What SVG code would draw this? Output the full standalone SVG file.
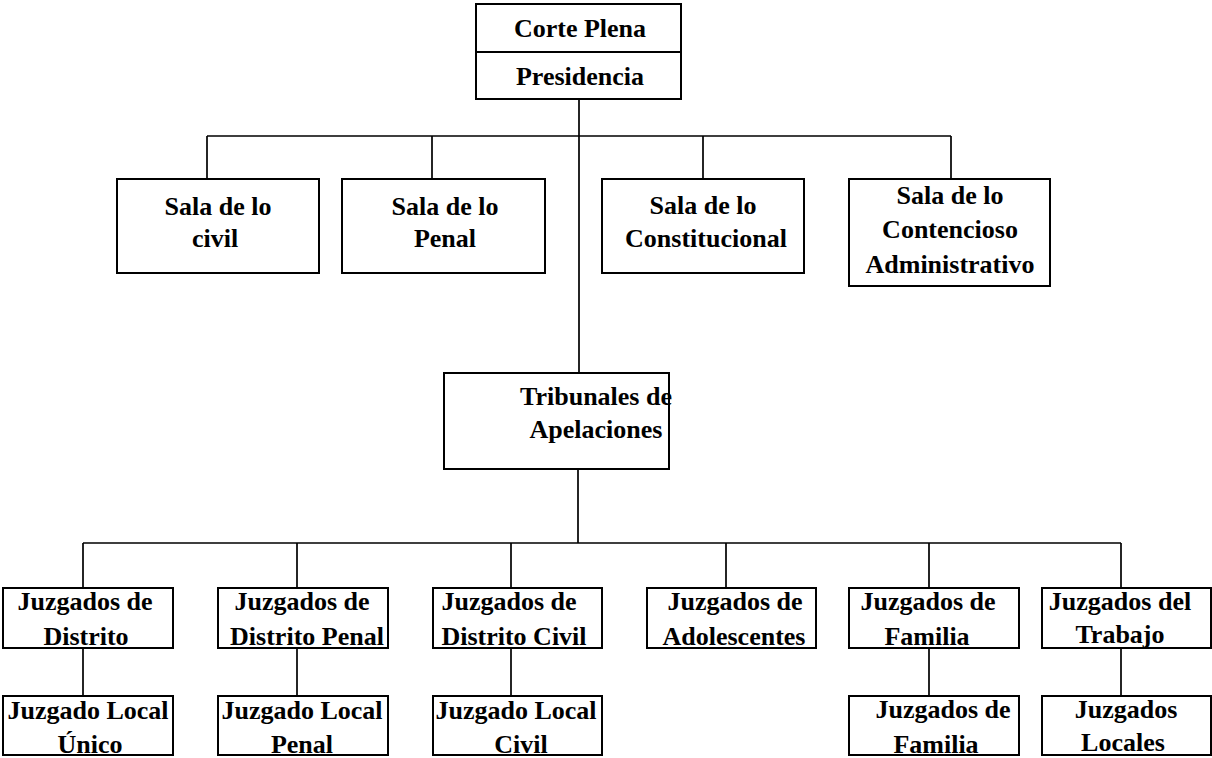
<svg xmlns="http://www.w3.org/2000/svg" width="1212" height="758" viewBox="0 0 1212 758">
<style>
.box{fill:#fff;stroke:#000;stroke-width:2}
.ln{fill:none;stroke:#000;stroke-width:1.7}
text{font-family:"Liberation Serif","Times New Roman",serif;font-weight:bold;font-size:26px;fill:#000;text-anchor:middle}
</style>
<rect width="1212" height="758" fill="#fff"/>
<g id="connectors">
<path class="ln" d="M579 99V373M207 136H951M207 136V179M432 136V179M703 136V179M951 136V179"/>
<path class="ln" d="M578 469V543M83 543H1121M83 543V588M297 543V588M511 543V588M726 543V588M929 543V588M1121 543V588"/>
<path class="ln" d="M83 648V696M297 648V696M511 648V696M929 648V696M1121 648V696"/>
</g>
<g id="corte-plena">
<rect class="box" x="476" y="4" width="205" height="95"/>
<line x1="476" y1="52" x2="681" y2="52" stroke="#000" stroke-width="2"/>
<text x="580" y="37">Corte Plena</text>
<text x="580" y="85">Presidencia</text>
</g>
<g id="sala-civil">
<rect class="box" x="117" y="179" width="202" height="94"/>
<text x="218" y="215">Sala de lo</text>
<text x="215" y="247">civil</text>
</g>
<g id="sala-penal">
<rect class="box" x="342" y="179" width="203" height="94"/>
<text x="445" y="215">Sala de lo</text>
<text x="445" y="247">Penal</text>
</g>
<g id="sala-constitucional">
<rect class="box" x="602" y="179" width="202" height="94"/>
<text x="703" y="214">Sala de lo</text>
<text x="706" y="247">Constitucional</text>
</g>
<g id="sala-contencioso">
<rect class="box" x="849" y="179" width="201" height="107"/>
<text x="950" y="204">Sala de lo</text>
<text x="950" y="238">Contencioso</text>
<text x="950" y="273">Administrativo</text>
</g>
<g id="tribunales">
<rect class="box" x="444" y="373" width="225" height="96"/>
<text x="596" y="405">Tribunales de</text>
<text x="596" y="438">Apelaciones</text>
</g>
<g id="jd-distrito">
<rect class="box" x="3" y="588" width="170" height="60"/>
<text x="85" y="610">Juzgados de</text>
<text x="86" y="645">Distrito</text>
</g>
<g id="jd-penal">
<rect class="box" x="218" y="588" width="170" height="60"/>
<text x="302" y="610">Juzgados de</text>
<text x="307" y="645">Distrito Penal</text>
</g>
<g id="jd-civil">
<rect class="box" x="433" y="588" width="169" height="60"/>
<text x="509" y="610">Juzgados de</text>
<text x="514" y="645">Distrito Civil</text>
</g>
<g id="jd-adolescentes">
<rect class="box" x="647" y="588" width="169" height="60"/>
<text x="735" y="610">Juzgados de</text>
<text x="734" y="645">Adolescentes</text>
</g>
<g id="jd-familia">
<rect class="box" x="849" y="588" width="170" height="60"/>
<text x="928" y="610">Juzgados de</text>
<text x="927" y="645">Familia</text>
</g>
<g id="jd-trabajo">
<rect class="box" x="1042" y="588" width="169" height="60"/>
<text x="1120" y="610">Juzgados del</text>
<text x="1120" y="643">Trabajo</text>
</g>
<g id="jl-unico">
<rect class="box" x="3" y="696" width="170" height="59"/>
<text x="88" y="719">Juzgado Local</text>
<text x="90" y="753">Único</text>
</g>
<g id="jl-penal">
<rect class="box" x="218" y="696" width="170" height="59"/>
<text x="302" y="719">Juzgado Local</text>
<text x="302" y="753">Penal</text>
</g>
<g id="jl-civil">
<rect class="box" x="433" y="696" width="169" height="59"/>
<text x="516" y="719">Juzgado Local</text>
<text x="521" y="753">Civil</text>
</g>
<g id="jl-familia">
<rect class="box" x="849" y="696" width="170" height="59"/>
<text x="943" y="718">Juzgados de</text>
<text x="936" y="753">Familia</text>
</g>
<g id="jl-locales">
<rect class="box" x="1042" y="696" width="169" height="59"/>
<text x="1126" y="718">Juzgados</text>
<text x="1123" y="751">Locales</text>
</g>
</svg>
